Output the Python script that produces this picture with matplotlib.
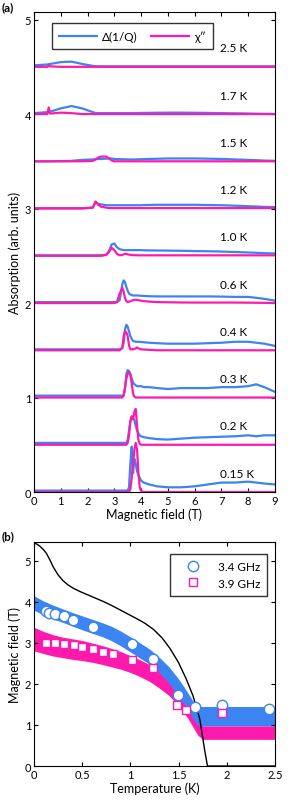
import numpy as np
import matplotlib.pyplot as plt

plt.rcParams['font.family'] = ['Lato', 'DejaVu Sans']
plt.rcParams['font.size'] = 9

blue = '#3c84f2'
pink = '#ff1aad'

# ---- panel (a): absorption traces, values relative to each trace's offset
field = [0, 0.5, 0.55, 0.6, 1.0, 1.4, 1.8, 2.2, 2.3, 2.4, 2.5, 2.7, 2.8, 2.9, 3.0,
         3.1, 3.2, 3.3, 3.35, 3.4, 3.45, 3.5, 3.55, 3.6, 3.65, 3.7, 3.75, 3.8,
         3.85, 3.9, 3.95, 4.0, 4.1, 4.3, 4.6, 5.0, 5.5, 6.0, 6.5, 7.0, 7.5, 8.0,
         8.3, 8.6, 9.0]

temps = ['0.15 K', '0.2 K', '0.3 K', '0.4 K', '0.6 K', '1.0 K', '1.2 K', '1.5 K', '1.7 K', '2.5 K']
offsets = [0, 0.5, 1.0, 1.5, 2.0, 2.5, 3.0, 3.5, 4.0, 4.5]

q_015 = [0.015]*22 + [0.05, 0.3, 0.48, 0.2, 0.35, 0.3, 0.22, 0.18, 0.15, 0.12, 0.1, 0.08,
                      0.06, 0.05, 0.05, 0.06, 0.08, 0.1, 0.1, 0.11, 0.1, 0.09, 0.08]
x_015 = [0]*23 + [0.03, 0.15, 0.3, 0.45, 0.52, 0.45, 0.2, 0.05, 0.01] + [0]*13

q_02 = [0.02]*21 + [0.05, 0.15, 0.25, 0.3, 0.28, 0.26, 0.2, 0.15, 0.12, 0.1, 0.09, 0.08,
                    0.07, 0.06, 0.055, 0.065, 0.075, 0.08, 0.085, 0.09, 0.1, 0.09, 0.1, 0.1]
x_02 = [0]*21 + [0.02, 0.1, 0.25, 0.3, 0.27, 0.35, 0.38, 0.2, 0.05, 0.01] + [0]*14

q_03 = [0.02]*18 + [0.03, 0.1, 0.25, 0.29, 0.28, 0.25, 0.2, 0.16, 0.14, 0.13, 0.12, 0.12,
                    0.12, 0.12, 0.11, 0.11, 0.1, 0.09, 0.1, 0.1, 0.1, 0.11, 0.11, 0.12,
                    0.14, 0.11, 0.06]
x_03 = [0]*18 + [0.02, 0.1, 0.2, 0.25, 0.27, 0.24, 0.15, 0.04, 0.01] + [0]*18

q_04 = [0.01]*17 + [0.02, 0.08, 0.22, 0.27, 0.25, 0.2, 0.15, 0.12, 0.1, 0.095, 0.09, 0.09,
                    0.09, 0.09, 0.088, 0.085, 0.08, 0.075, 0.07, 0.07, 0.07, 0.075, 0.08,
                    0.09, 0.09, 0.08, 0.07, 0.046]
x_04 = [0]*17 + [0.03, 0.15, 0.2, 0.19, 0.15, 0.05, 0.01, 0.01, 0.01, 0.015, 0.02, 0.03,
                 0.02, 0.015, 0.01, 0.008, 0.005] + [0]*11

q_06 = [0.01]*16 + [0.03, 0.2, 0.24, 0.22, 0.17, 0.13, 0.1, 0.09, 0.085, 0.08, 0.08, 0.08,
                    0.08, 0.08, 0.078, 0.077, 0.075, 0.072, 0.07, 0.07, 0.07, 0.07, 0.07,
                    0.068, 0.065, 0.065, 0.055, 0.045, 0.025]
x_06 = [0]*15 + [0.01, 0.1, 0.16, 0.12, 0.05, 0.02, 0.01, 0.015, 0.02, 0.025, 0.03, 0.032,
                 0.035, 0.033, 0.03, 0.027, 0.025, 0.02, 0.015, 0.01, 0.008, 0.006, 0.005,
                 0.005, 0.005, 0.005, 0.004, 0.003, 0.002, 0.0]

q_10 = [0.005]*11 + [0.01, 0.05, 0.12, 0.13, 0.09, 0.07, 0.063, 0.061, 0.06, 0.06, 0.06,
                     0.06, 0.06, 0.06, 0.06, 0.06, 0.06, 0.06, 0.06, 0.06, 0.06, 0.058,
                     0.057, 0.056, 0.055, 0.053, 0.05, 0.048, 0.045, 0.04, 0.035, 0.032,
                     0.028, 0.025]
x_10 = [0]*11 + [0.01, 0.04, 0.085, 0.06, 0.02, 0.005, 0.01, 0.015, 0.02, 0.02, 0.015,
                 0.012, 0.01, 0.008, 0.007, 0.006, 0.006, 0.006, 0.005, 0.005, 0.005,
                 0.005, 0.005, 0.005, 0.005, 0.005, 0.005, 0.005, 0.005, 0.005, 0.005,
                 0.005, 0.005, 0.005]

q_12 = [0.005]*7 + [0.01, 0.07, 0.05, 0.045, 0.035, 0.035, 0.035, 0.035, 0.035, 0.035,
                    0.035, 0.035, 0.035, 0.035, 0.035, 0.035, 0.035, 0.035, 0.035, 0.035,
                    0.035, 0.035, 0.035, 0.035, 0.035, 0.037, 0.038, 0.04, 0.04, 0.04,
                    0.04, 0.037, 0.035, 0.03, 0.025, 0.022, 0.018, 0.015]
x_12 = [0]*7 + [0.01, 0.075, 0.04, 0.02, 0.01] + [0.005]*33

q_15 = [0.0, 0.0, 0.0, 0.0, 0.002, 0.005, 0.015, 0.02, 0.022, 0.024, 0.025, 0.028, 0.03,
        0.03, 0.025, 0.024, 0.023, 0.022, 0.022, 0.021, 0.021, 0.02, 0.02, 0.02, 0.02,
        0.02, 0.02, 0.02, 0.021, 0.021, 0.022, 0.022, 0.023, 0.025, 0.027, 0.03, 0.03,
        0.03, 0.028, 0.025, 0.02, 0.015, 0.012, 0.008, 0.005]
x_15 = [0]*7 + [0.005, 0.02, 0.04, 0.05, 0.05, 0.03, 0.01] + [0]*31

q_17 = [0.01, 0.02, 0.022, 0.025, 0.06, 0.085, 0.06, 0.02, 0.012, 0.01, 0.01, 0.01, 0.01,
        0.01, 0.01, 0.01, 0.01, 0.01, 0.01, 0.01, 0.01, 0.01, 0.01, 0.01, 0.01, 0.01,
        0.011, 0.011, 0.011, 0.011, 0.012, 0.012, 0.012, 0.013, 0.014, 0.015, 0.015,
        0.014, 0.012, 0.01, 0.008, 0.006, 0.004, 0.002, 0.0]
x_17 = [0, 0, 0.07, 0.005, 0.015, 0.01] + [0]*39

q_25 = [0.015, 0.025, 0.028, 0.03, 0.05, 0.055, 0.03, 0.01, 0.006] + [0.005]*36
x_25 = [0, 0, 0.015, 0.005] + [0]*41

blue_traces = [q_015, q_02, q_03, q_04, q_06, q_10, q_12, q_15, q_17, q_25]
pink_traces = [x_015, x_02, x_03, x_04, x_06, x_10, x_12, x_15, x_17, x_25]

# ---- panel (b): phase diagram
t_34 = [0.12, 0.16, 0.22, 0.31, 0.40, 0.61, 1.02, 1.23, 1.49, 1.67, 1.95, 2.44]
b_34 = [3.78, 3.74, 3.71, 3.65, 3.56, 3.38, 2.98, 2.60, 1.74, 1.43, 1.48, 1.39]
t_39 = [0.12, 0.22, 0.31, 0.41, 0.50, 0.61, 0.72, 0.82, 1.02, 1.23, 1.48, 1.58, 1.95]
b_39 = [3.00, 3.00, 2.97, 2.94, 2.89, 2.86, 2.79, 2.73, 2.59, 2.38, 1.48, 1.37, 1.29]

band_t = [0, 0.1, 0.2, 0.3, 0.4, 0.5, 0.6, 0.7, 0.8, 0.9, 1.0, 1.1, 1.2, 1.3, 1.4, 1.5,
          1.55, 1.6, 1.65, 1.7, 1.75, 2.5]
blue_hi = [4.15, 4.02, 3.92, 3.83, 3.74, 3.66, 3.58, 3.5, 3.41, 3.29, 3.15, 3.0, 2.85,
           2.65, 2.42, 2.12, 1.95, 1.77, 1.58, 1.45, 1.45, 1.45]
blue_lo = [3.8, 3.68, 3.58, 3.5, 3.41, 3.32, 3.24, 3.16, 3.06, 2.93, 2.78, 2.63, 2.48,
           2.27, 2.02, 1.70, 1.53, 1.35, 1.15, 1.0, 0.98, 0.98]
pink_hi = [3.38, 3.28, 3.2, 3.14, 3.1, 3.06, 3.0, 2.94, 2.87, 2.79, 2.69, 2.59, 2.47,
           2.33, 2.15, 1.88, 1.72, 1.55, 1.3, 1.1, 0.98, 0.98]
pink_lo = [2.81, 2.74, 2.68, 2.64, 2.6, 2.57, 2.53, 2.48, 2.42, 2.36, 2.28, 2.18, 2.06,
           1.9, 1.72, 1.47, 1.32, 1.15, 0.95, 0.75, 0.65, 0.65]

calc_t = [0, 0.03, 0.06, 0.1, 0.13, 0.17, 0.2, 0.25, 0.3, 0.35, 0.41, 0.48, 0.55, 0.63,
          0.72, 0.8, 0.89, 0.97, 1.06, 1.15, 1.24, 1.33, 1.41, 1.5, 1.58, 1.65, 1.69,
          1.72, 1.74, 1.77, 1.8, 2.5]
calc_b = [5.44, 5.41, 5.36, 5.27, 5.18, 5.0, 4.85, 4.66, 4.52, 4.42, 4.33, 4.25, 4.18,
          4.1, 4.01, 3.92, 3.81, 3.71, 3.6, 3.48, 3.33, 3.12, 2.87, 2.52, 2.12, 1.71,
          1.39, 1.15, 0.85, 0.4, 0.0, 0.0]

fig = plt.figure(figsize=(2.91, 8.04), dpi=100)

# 子图 a
ax1 = fig.add_axes([0.1168, 0.3868, 0.828, 0.597])
for i in range(len(temps)):
    yb = np.array(blue_traces[i]) + offsets[i]
    yp = np.array(pink_traces[i]) + offsets[i]
    ax1.plot(field, yb, color=blue, lw=1.6, label='Δ(1/Q)' if i == 0 else None)
    ax1.plot(field, yp, color=pink, lw=1.6, label='χ″' if i == 0 else None)
    ax1.text(6.95, offsets[i] + 0.2, temps[i], fontsize=8.5, va='center')
ax1.set_xlim(0, 9)
ax1.set_ylim(0, 5.08)
ax1.set_xticks(range(10))
ax1.set_yticks(range(6))
ax1.tick_params(direction='in', top=True, right=True, length=3, labelsize=8, pad=2)
ax1.set_xlabel('Magnetic field (T)', labelpad=1)
ax1.set_ylabel('Absorption (arb. units)', labelpad=3)
ax1.legend(loc='upper left', bbox_to_anchor=(0.075, 0.977), borderaxespad=0, ncol=2,
           fancybox=False, edgecolor='k', handlelength=3.2, columnspacing=1.2,
           handletextpad=0.4, borderpad=0.6, fontsize=8.5)
fig.text(0.005, 0.99, '(a)', fontweight='bold', fontsize=8.5, va='center')

# 子图 b
ax2 = fig.add_axes([0.1168, 0.046, 0.828, 0.2786])
ax2.fill_between(band_t, pink_lo, pink_hi, color=pink, lw=0)
ax2.fill_between(band_t, blue_lo, blue_hi, color=blue, lw=0)
ax2.plot(calc_t, calc_b, color='k', lw=1.0)
ax2.plot(t_34, b_34, 'o', ms=7.5, mfc='white', mec=blue, mew=1.0, label='3.4 GHz')
ax2.plot(t_39, b_39, 's', ms=6, mfc='white', mec=pink, mew=1.0, label='3.9 GHz')
ax2.set_xlim(0, 2.5)
ax2.set_ylim(0, 5.46)
ax2.set_xticks([0, 0.5, 1, 1.5, 2, 2.5])
ax2.set_xticklabels(['0', '0.5', '1', '1.5', '2', '2.5'])
ax2.set_yticks(range(6))
ax2.tick_params(direction='in', top=True, right=True, length=3, labelsize=8, pad=2)
ax2.set_xlabel('Temperature (K)', labelpad=1)
ax2.set_ylabel('Magnetic field (T)', labelpad=3)
ax2.legend(loc='upper right', bbox_to_anchor=(0.967, 0.946), borderaxespad=0,
           fancybox=False, edgecolor='k', handlelength=2.6, handletextpad=0.8,
           borderpad=0.6, labelspacing=0.45, fontsize=8.5)
fig.text(0.005, 0.332, '(b)', fontweight='bold', fontsize=8.5, va='center')

plt.savefig('out.png', dpi=100)
